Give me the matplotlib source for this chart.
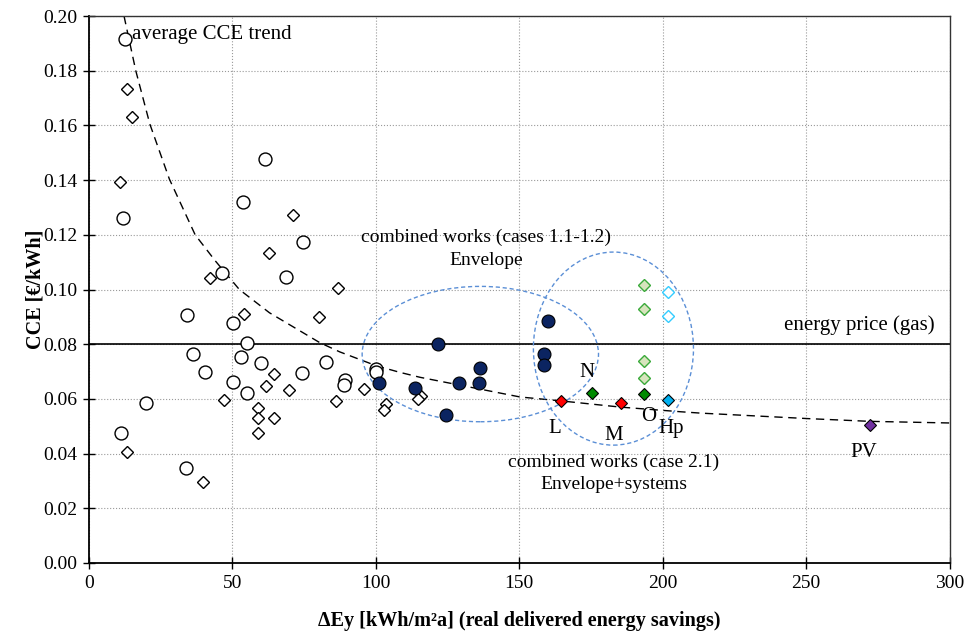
import matplotlib
matplotlib.use("Agg")
import matplotlib.pyplot as plt
from matplotlib.patches import Ellipse

plt.rcParams["font.family"] = ["Liberation Serif", "DejaVu Serif"]

# single measures (open markers)
circ_x = [12.5, 12.0, 61.4, 53.8, 74.6, 68.8, 46.2, 34.0, 50.3, 55.2, 36.2, 53.0,
          60.1, 82.6, 40.4, 74.1, 50.3, 55.2, 19.9, 11.1, 33.8, 100.2, 100.0, 89.3, 88.8]
circ_y = [0.1916, 0.1262, 0.1477, 0.1321, 0.1173, 0.1047, 0.1061, 0.0907, 0.0879, 0.0803,
          0.0763, 0.0755, 0.0732, 0.0734, 0.0699, 0.0693, 0.0661, 0.0620, 0.0585, 0.0476,
          0.0347, 0.0711, 0.0697, 0.0669, 0.0652]

diam_x = [13.2, 14.9, 10.8, 71.2, 62.9, 42.3, 86.8, 54.0, 80.2, 64.4, 61.8, 69.8, 86.2,
          47.2, 58.9, 58.9, 64.4, 58.9, 13.2, 39.9, 96.0, 103.5, 102.8, 115.6, 114.8]
diam_y = [0.1732, 0.1631, 0.1392, 0.1274, 0.1135, 0.1042, 0.1007, 0.0910, 0.0899, 0.0691,
          0.0648, 0.0631, 0.0594, 0.0597, 0.0567, 0.0529, 0.0530, 0.0474, 0.0406, 0.0295,
          0.0635, 0.0580, 0.0561, 0.0612, 0.0600]

# combined works, cases 1.1-1.2
env_x = [121.5, 136.4, 101.0, 113.5, 129.1, 136.0, 124.3, 160.0, 158.5, 158.5]
env_y = [0.0801, 0.0713, 0.0657, 0.0641, 0.0657, 0.0657, 0.0542, 0.0886, 0.0766, 0.0725]

# combined works, case 2.1
red_x = [164.5, 185.4]
red_y = [0.0593, 0.0584]
green_x = [175.4, 193.3]
green_y = [0.0620, 0.0618]
lgreen_x = [193.3, 193.3, 193.3, 193.3]
lgreen_y = [0.1018, 0.0929, 0.0738, 0.0678]
lblue_x = [201.7, 201.7]
lblue_y = [0.0991, 0.0903]
hp_x, hp_y = 201.7, 0.0596
pv_x, pv_y = 272.1, 0.0506

point_labels = ["N", "L", "M", "O", "Hp", "PV"]
label_x = [173.4, 162.3, 183.0, 195.0, 203.0, 270.0]
label_y = [0.0697, 0.0490, 0.0468, 0.0535, 0.0490, 0.0405]

trend_x = [12.2, 16.3, 21.2, 28.0, 37.0, 44.0, 52.4, 62.9, 80.4, 87.4, 100.2,
           108.4, 115.4, 150.3, 164.3, 185.3, 206.3, 213.3, 250.6, 272.1, 300.0]
trend_y = [0.200, 0.180, 0.1605, 0.1404, 0.1200, 0.1105, 0.1000, 0.0915, 0.0806,
           0.0772, 0.0721, 0.0697, 0.0679, 0.0607, 0.0593, 0.0570, 0.0553, 0.0548,
           0.0528, 0.0518, 0.0512]

gas_price = 0.08

fig = plt.figure(figsize=(9.72, 6.33), dpi=100)
ax = fig.add_axes([0.0916, 0.1106, 0.8854, 0.8640])

ax.plot(trend_x, trend_y, color="black", lw=1.0, ls=(0, (6, 4)), zorder=2)
ax.axhline(gas_price, color="black", lw=1.2, zorder=2)

ell_style = dict(fill=False, edgecolor="#5B8FD6", lw=1.0, ls=(0, (3, 2)), zorder=2)
ax.add_patch(Ellipse((136.4, 0.0764), 82.4, 0.0495, **ell_style))
ax.add_patch(Ellipse((182.8, 0.0784), 55.8, 0.0706, **ell_style))

ax.plot(circ_x, circ_y, "o", ms=9.3, mfc="white", mec="black", mew=1.0, zorder=3)
ax.plot(diam_x, diam_y, "D", ms=6, mfc="white", mec="black", mew=1.0, zorder=3)
ax.plot(env_x, env_y, "o", ms=9.3, mfc="#0B2461", mec="black", mew=0.8, zorder=4)
ax.plot(lgreen_x, lgreen_y, "D", ms=6, mfc="#D7E4BD", mec="#3BAA3B", mew=1.0, zorder=4)
ax.plot(lblue_x, lblue_y, "D", ms=6, mfc="white", mec="#33CCFF", mew=1.0, zorder=4)
ax.plot(red_x, red_y, "D", ms=6, mfc="#FF0000", mec="black", mew=0.8, zorder=4)
ax.plot(green_x, green_y, "D", ms=6, mfc="#008A00", mec="black", mew=0.8, zorder=4)
ax.plot(hp_x, hp_y, "D", ms=6, mfc="#00B0F0", mec="black", mew=0.8, zorder=4)
ax.plot(pv_x, pv_y, "D", ms=6.3, mfc="#7030A0", mec="black", mew=0.8, zorder=4)

for txt, lx, ly in zip(point_labels, label_x, label_y):
    ax.text(lx, ly, txt, fontsize=15, ha="center", va="center", zorder=5)

ax.text(15.0, 0.1932, "average CCE trend", fontsize=15, ha="left", va="center")
ax.text(268.5, 0.0868, "energy price (gas)", fontsize=15, ha="center", va="center")
ax.text(138.5, 0.1148, "combined works (cases 1.1-1.2)\nEnvelope", fontsize=14,
        ha="center", va="center", linespacing=1.45)
ax.text(183.0, 0.0329, "combined works (case 2.1)\nEnvelope+systems", fontsize=14,
        ha="center", va="center", linespacing=1.4)

ax.set_xlim(0, 300)
ax.set_ylim(0, 0.20)
ax.set_xticks(range(0, 301, 50))
ax.set_yticks([i * 0.02 for i in range(11)])
ax.yaxis.set_major_formatter(matplotlib.ticker.FormatStrFormatter("%.2f"))
ax.tick_params(direction="inout", length=9, width=1.0, labelsize=14, pad=4)
ax.grid(True, color="#9A9A9A", lw=0.8, ls=":")
ax.set_axisbelow(True)
for side in ["left", "bottom"]:
    ax.spines[side].set_linewidth(1.3)
for side in ["top", "right"]:
    ax.spines[side].set_linewidth(1.0)
    ax.spines[side].set_color("#333333")

ax.set_xlabel("ΔEy [kWh/m²a] (real delivered energy savings)", fontsize=14.5,
              fontweight="bold", labelpad=14)
ax.set_ylabel("CCE [€/kWh]", fontsize=14.5, fontweight="bold", labelpad=-2)

fig.savefig("out.png", dpi=100)
